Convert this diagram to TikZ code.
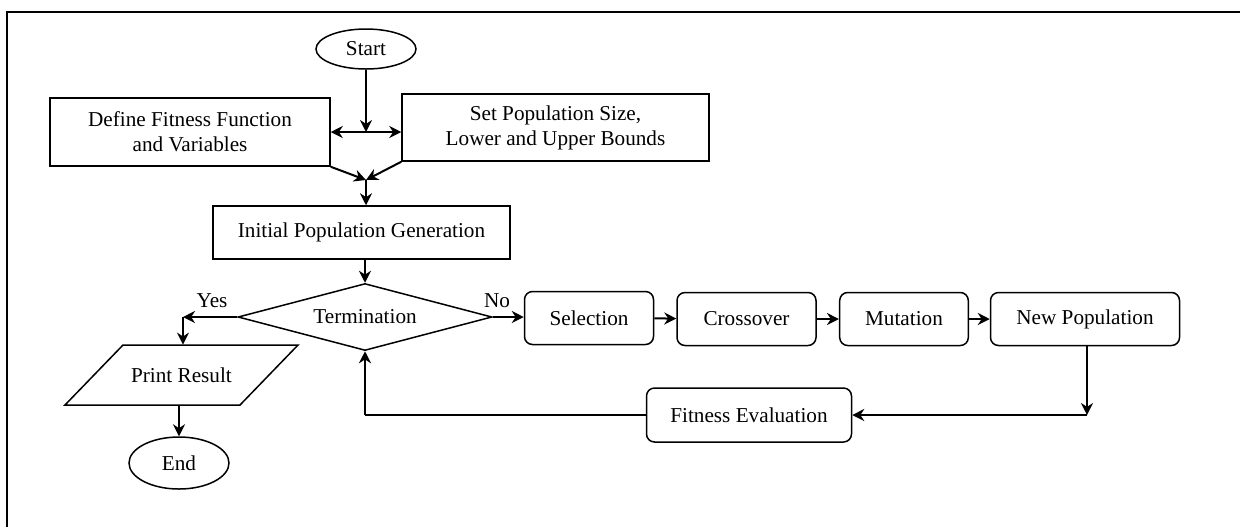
\documentclass[tikz,border=0pt]{standalone}
\usepackage{fontspec}
\setmainfont{Liberation Serif}
\usetikzlibrary{shapes.geometric,arrows.meta}
\begin{document}
\begin{tikzpicture}[x=0.5pt,y=-0.5pt,
  every node/.style={font=\fontsize{10.6}{12.5}\selectfont, inner sep=0pt},
  box/.style={draw, line width=0.75pt, align=center},
  rbox/.style={box, rounded corners=4pt, minimum height=26.5pt},
  conn/.style={line width=1pt, -{Stealth[length=6pt,width=6pt]}},
  plain/.style={line width=1pt},
  lbl/.style={font=\fontsize{10.6}{12.5}\selectfont}]
\useasboundingbox (0,0) rectangle (1240,527);
\draw[line width=1.2pt] (7,527) -- (7,12) -- (1240,12);

\node[box, ellipse, minimum width=50pt, minimum height=20pt] (start) at (366,49) {Start};
\node[box, minimum width=140pt, minimum height=34pt] (define) at (190,132) {Define Fitness Function\\and Variables};
\node[box, minimum width=153.5pt, minimum height=33.5pt] (setpop) at (555.5,127.5) {Set Population Size,\\Lower and Upper Bounds};
\node[box, minimum width=148.5pt, minimum height=26.5pt] (init) at (361.5,232.5) {Initial Population Generation};
\node[box, diamond, aspect=3.79, minimum width=127pt, minimum height=33.5pt] (term) at (365,317) {Termination};
\node[minimum width=116.5pt, minimum height=30pt] (print) at (181.5,375) {Print Result};
\draw[line width=0.75pt] (print.center) ++(-58.5,-30) -- ++(175,0) -- ++(-58,60) -- ++(-175,0) -- cycle;
\node[box, ellipse, minimum width=50pt, minimum height=26pt] (end) at (179,463) {End};

\node[rbox, minimum width=64.5pt] (sel) at (589,318) {Selection};
\node[rbox, minimum width=69.5pt] (cross) at (746.5,319) {Crossover};
\node[rbox, minimum width=64.3pt] (mut) at (904,319) {Mutation};
\node[rbox, minimum width=94.5pt] (newp) at (1085,319) {New Population};
\node[rbox, minimum width=102.5pt, minimum height=27pt] (fit) at (749,415) {Fitness Evaluation};

\coordinate (j1) at (366,132);
\coordinate (j2) at (366,180);
\coordinate (y1) at (183,317);
\coordinate (c1) at (1087,415);
\coordinate (c2) at (365,415);

\draw[conn] (start) -- (j1);
\draw[conn] (j1) -- (define.east |- j1);
\draw[conn] (j1) -- (setpop.west |- j1);
\draw[conn] (define.south east) -- (j2);
\draw[conn] (setpop.south west) -- (j2);
\draw[conn] (j2) -- (init.north -| j2);
\draw[conn] (init.south -| term) -- (term.north);
\draw[conn] (term.west) -- (y1);
\draw[conn] (y1) -- (y1 |- print.north);
\draw[conn] (end |- print.south) -- (end.north);
\draw[conn] (term.east) -- (sel.west |- term.east);
\draw[conn] (sel) -- (cross);
\draw[conn] (cross) -- (mut);
\draw[conn] (mut) -- (newp);
\draw[conn] (newp.south -| c1) -- (c1);
\draw[conn] (c1) -- (fit.east |- c1);
\draw[plain] (fit.west |- c2) -- (c2);
\draw[conn] (c2) -- (term.south);

\node[lbl] (yes) at (212,301) {Yes};
\node[lbl] (no) at (497,301) {No};
\end{tikzpicture}
\end{document}
